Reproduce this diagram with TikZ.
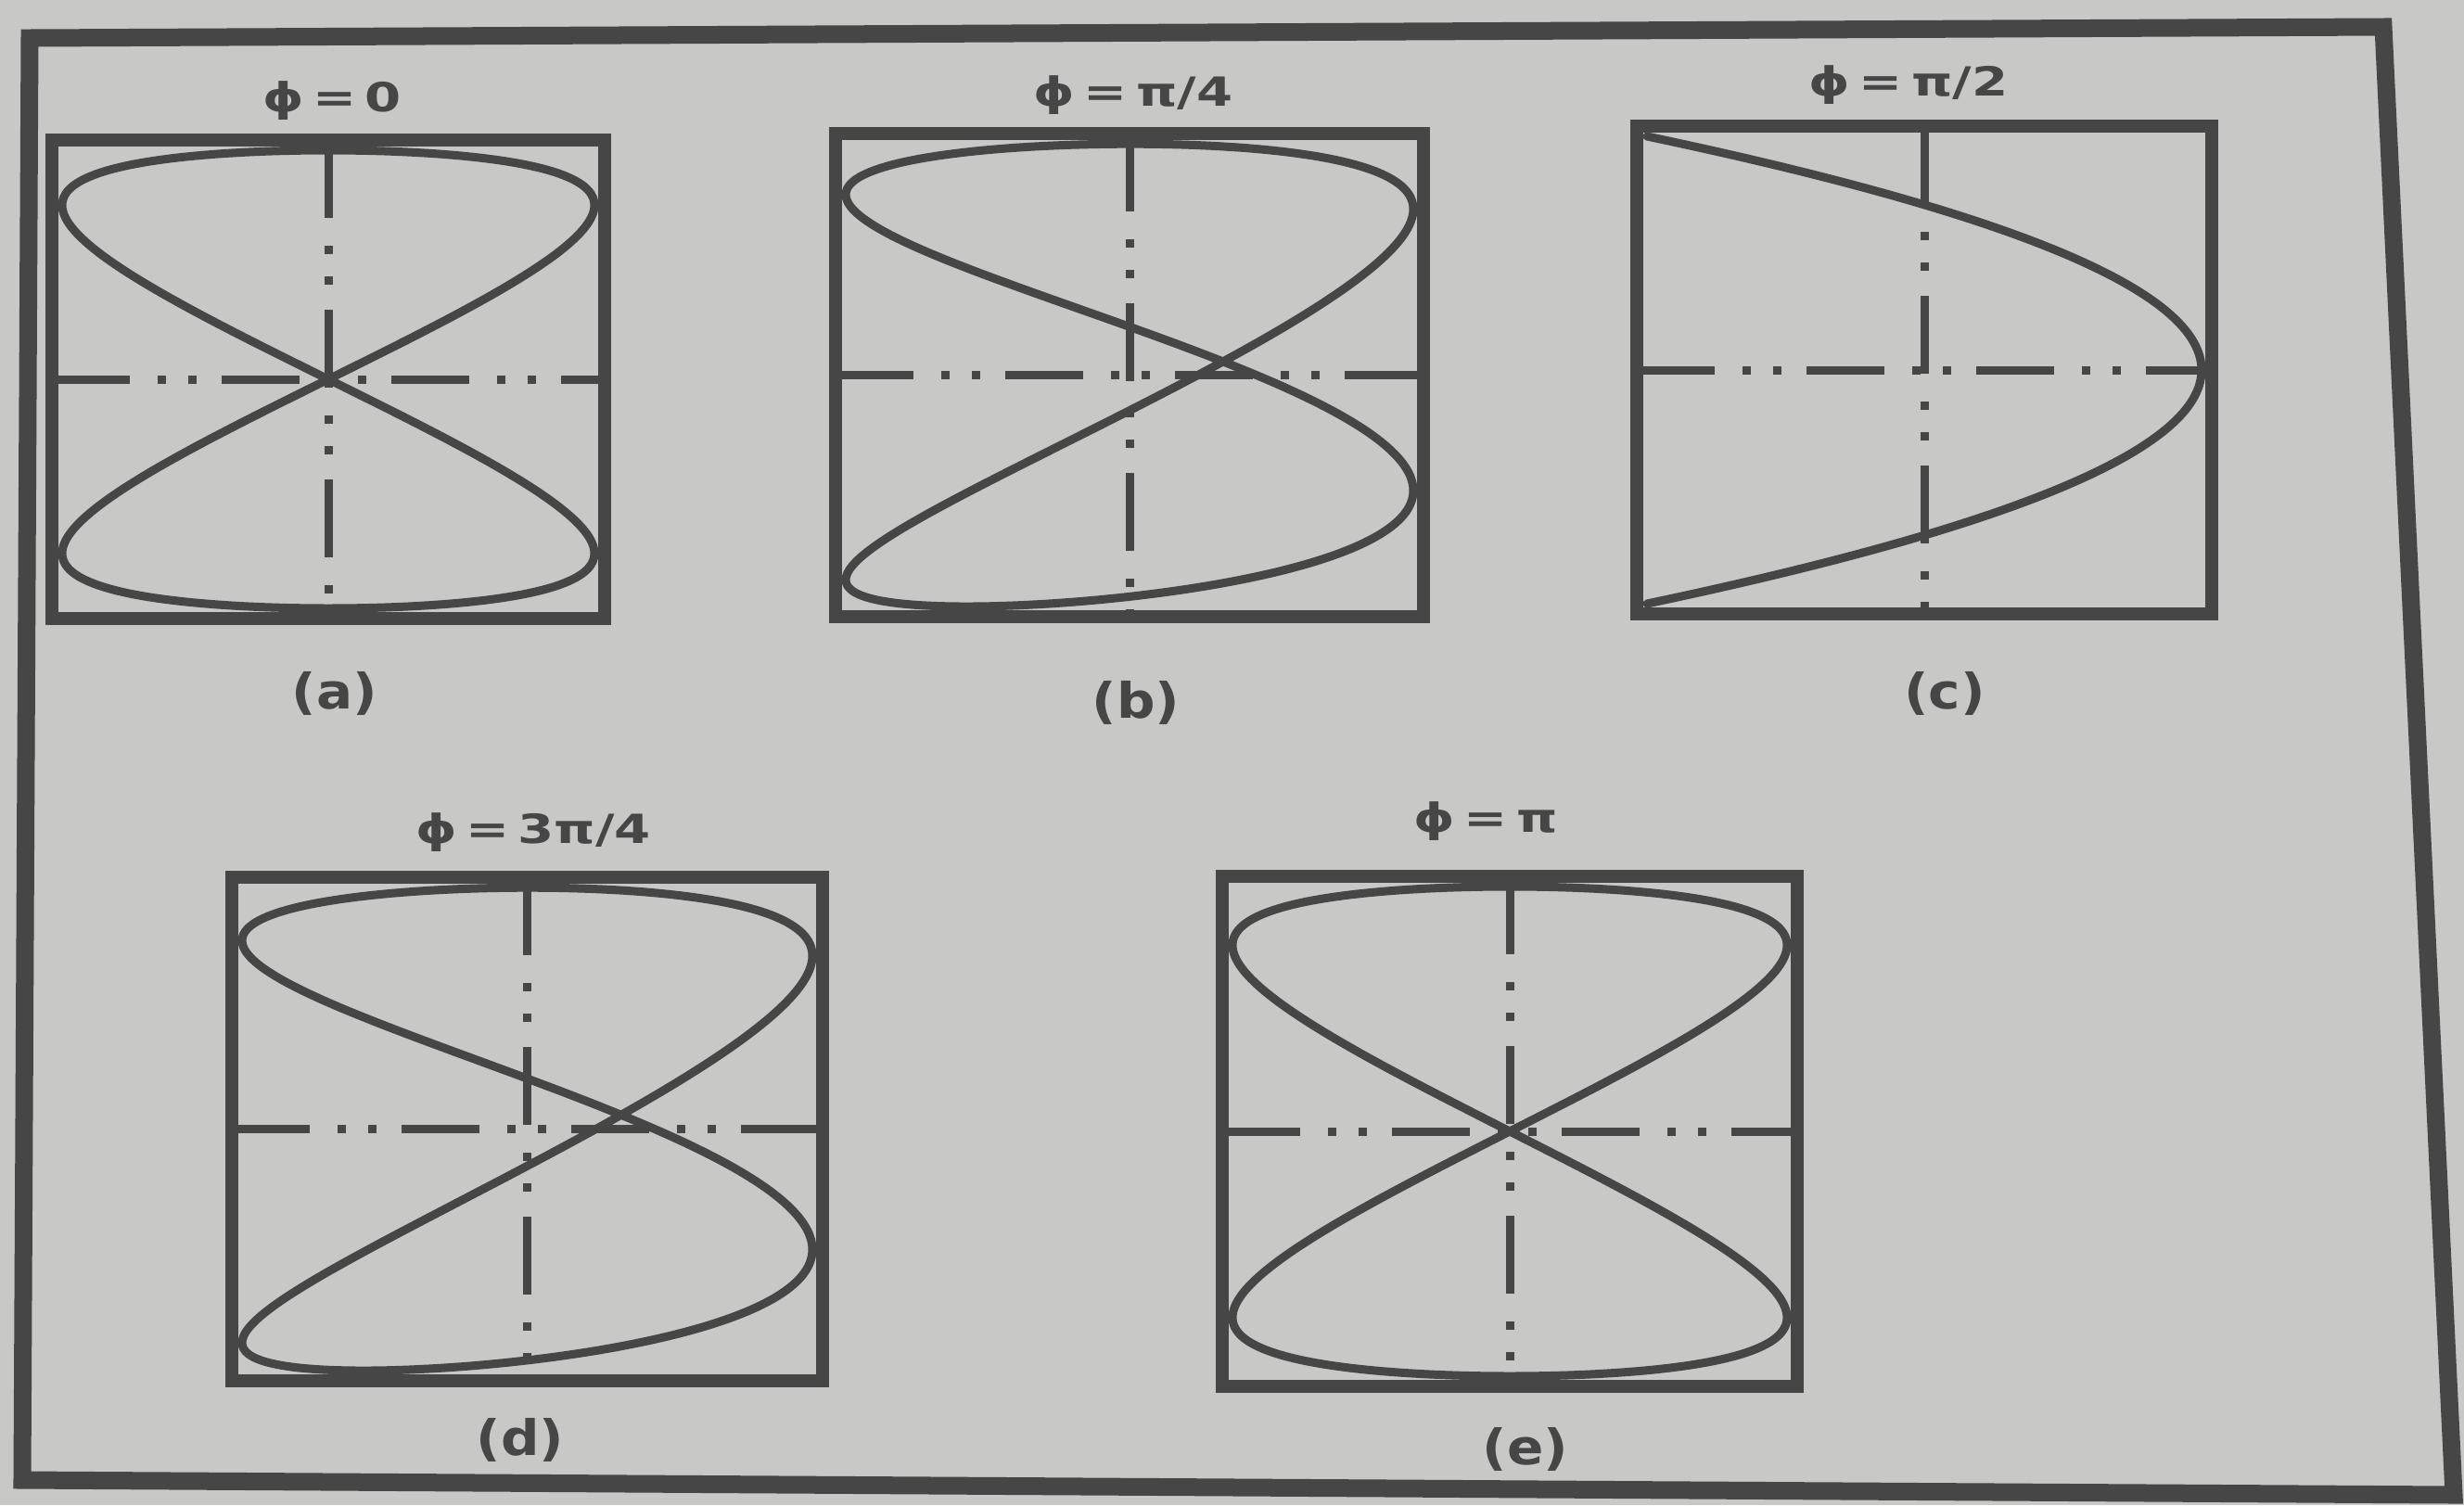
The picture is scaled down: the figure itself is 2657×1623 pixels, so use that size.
\documentclass[tikz,border=0pt]{standalone}
\usepackage{fontspec}
\setmainfont{DejaVu Sans}
\definecolor{paper}{RGB}{200,200,198}
\definecolor{ink}{RGB}{70,70,70}
\tikzset{
  declare function={
    warpa(\s)=\s*(1.15-0.15*\s*\s);
    warpb(\s)=\s*(1.1-0.1*\s*\s);
    skewy(\t)=0.0257 - 0.805*cos(\t) + 0.5717*sin(\t) - 0.0834*cos(2*\t);
  },
  frameline/.style={draw=ink, line width=0.19cm, line join=miter},
  boxline/.style={draw=ink, line width=0.14cm, line join=miter},
  curveline/.style={draw=ink, line width=0.09cm, line join=round, line cap=round},
  axisline/.style={draw=ink, line width=0.09cm,
     dash pattern=on 0.84cm off 0.30cm on 0.09cm off 0.24cm on 0.09cm off 0.27cm},
  philabel/.style={font=\fontsize{12.3}{14}\selectfont\bfseries, text=ink, inner sep=0pt, xscale=1.3, transform shape},
  sublabel/.style={font=\fontsize{15}{17}\selectfont\bfseries, text=ink, inner sep=0pt, xscale=1.1, transform shape}
}
\newcommand\lissbox[4]{%
  \draw[axisline] ({#1-#3},#2) -- ({#1+#3},#2);
  \draw[axisline] (#1,{#2-#4}) -- (#1,{#2+#4});
}
\newcommand\lissframe[4]{%
  \draw[boxline] ({#1-#3},{#2-#4}) rectangle ({#1+#3},{#2+#4});
}
% the skewed figure drawn for phi = pi/4 and phi = 3pi/4
\newcommand\skewcurve{%
  \draw[curveline] plot[domain=0:360, samples=241, smooth, variable=\t]
    ({-cos(2*\t)},{warpb(skewy(\t))});
}
\begin{document}
\begin{tikzpicture}[x=0.01cm, y=-0.01cm]
\useasboundingbox (0,0) rectangle (2657,1623);
\fill[paper] (0,0) rectangle (2657,1623);
% outer frame
\draw[frameline] (32,41) -- (2570,29) -- (2646,1612) -- (24,1596) -- cycle;

% ---------- panel (a) ----------
\lissbox{354}{409}{298}{258}
\begin{scope}[shift={(354,409)}, xscale=287, yscale=-247]
  \draw[curveline] plot[domain=0:360, samples=241, smooth, variable=\t] ({sin(2*\t)},{warpa(sin(\t))});
\end{scope}
\lissframe{354}{409}{298}{258}
\node[philabel] (la) at (358,109) {ϕ\,=\,0};
\node[sublabel] (ca) at (361,748) {(a)};

% ---------- panel (b) ----------
\lissbox{1218}{404.5}{317}{260.5}
\begin{scope}[shift={(1218,404.5)}, xscale=306, yscale=-249.5]
  \skewcurve
\end{scope}
\lissframe{1218}{404.5}{317}{260.5}
\node[philabel] (lb) at (1222,103) {ϕ\,=\,π/4};
\node[sublabel] (cb) at (1225,758) {(b)};

% ---------- panel (c) ----------
\lissbox{2075}{399}{310}{263}
\begin{scope}[shift={(2075,399)}, xscale=299, yscale=-252]
  \draw[curveline] plot[domain=-90:90, samples=121, smooth, variable=\t] ({cos(2*\t)},{sin(\t)});
\end{scope}
\lissframe{2075}{399}{310}{263}
\node[philabel] (lc) at (2058,92) {ϕ\,=\,π/2};
\node[sublabel] (cc) at (2097,748) {(c)};

% ---------- panel (d) ----------
\lissbox{568.5}{1217.5}{318.5}{271.5}
\begin{scope}[shift={(568.5,1217.5)}, xscale=307.5, yscale=-260.5]
  \skewcurve
\end{scope}
\lissframe{568.5}{1217.5}{318.5}{271.5}
\node[philabel] (ld) at (575,898) {ϕ\,=\,3π/4};
\node[sublabel] (cd) at (561,1553) {(d)};

% ---------- panel (e) ----------
\lissbox{1628}{1220}{310}{275}
\begin{scope}[shift={(1628,1220)}, xscale=299, yscale=-264]
  \draw[curveline] plot[domain=0:360, samples=241, smooth, variable=\t] ({-sin(2*\t)},{warpa(sin(\t))});
\end{scope}
\lissframe{1628}{1220}{310}{275}
\node[philabel] (le) at (1602,886) {ϕ\,=\,π};
\node[sublabel] (ce) at (1645,1563) {(e)};
\end{tikzpicture}
\end{document}
